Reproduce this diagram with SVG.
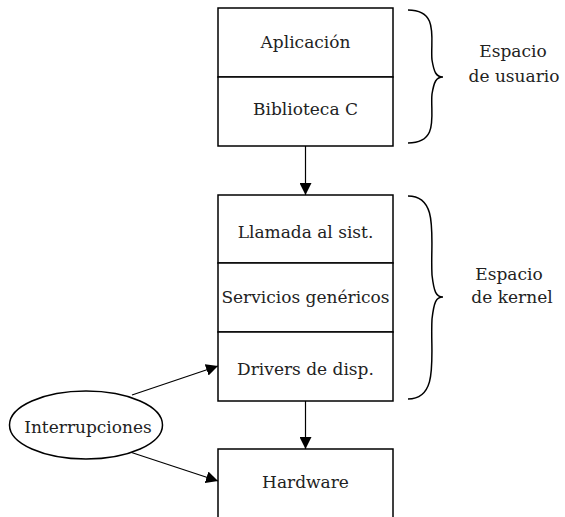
<svg xmlns="http://www.w3.org/2000/svg" width="565" height="517" viewBox="0 0 565 517">
<style>
.box{fill:#fff;stroke:#000;stroke-width:1.5}
.t{font-family:"DejaVu Serif","Liberation Serif",serif;font-size:17px;fill:#222;text-anchor:middle}
.c{fill:none;stroke:#000;stroke-width:1.2}
.br{fill:none;stroke:#000;stroke-width:1.5}
</style>
<defs>
<marker id="ah" viewBox="0 0 10 10" refX="10" refY="5" markerWidth="12" markerHeight="12" markerUnits="userSpaceOnUse" orient="auto">
<path d="M0,0 L10,5 L0,10 Z" fill="#000"/>
</marker>
</defs>
<g id="connectors">
<line class="c" x1="305.5" y1="146" x2="305.5" y2="195" marker-end="url(#ah)"/>
<line class="c" x1="305.5" y1="401" x2="305.5" y2="449" marker-end="url(#ah)"/>
<line class="c" x1="132" y1="395" x2="218" y2="366" marker-end="url(#ah)"/>
<line class="c" x1="130" y1="452" x2="218" y2="481" marker-end="url(#ah)"/>
</g>
<g id="aplicacion"><rect class="box" x="218" y="8" width="175" height="69"/><text class="t" x="305.5" y="48">Aplicación</text></g>
<g id="biblioteca"><rect class="box" x="218" y="77" width="175" height="69"/><text class="t" x="305.5" y="115">Biblioteca C</text></g>
<g id="llamada"><rect class="box" x="218" y="195" width="175" height="68"/><text class="t" x="305.5" y="238">Llamada al sist.</text></g>
<g id="servicios"><rect class="box" x="218" y="263" width="175" height="69"/><text class="t" x="305.5" y="303">Servicios genéricos</text></g>
<g id="drivers"><rect class="box" x="218" y="332" width="175" height="69"/><text class="t" x="305.5" y="375">Drivers de disp.</text></g>
<g id="hardware"><rect class="box" x="218" y="449" width="175" height="70"/><text class="t" x="305.5" y="488">Hardware</text></g>
<g id="interrupciones"><ellipse class="box" cx="86" cy="425" rx="76.5" ry="34"/><text class="t" x="88" y="433">Interrupciones</text></g>
<g id="brace-usuario">
<path class="br" d="M408,10 C440,10 430,40 432,60 C434,72 436,77 443,77 C436,77 434,82 432,94 C430,114 440,143 408,143"/>
<text class="t" x="513" y="57">Espacio</text><text class="t" x="514" y="82">de usuario</text>
</g>
<g id="brace-kernel">
<path class="br" d="M408,196 C440,196 430,240 432,275 C434,292 436,297 443,297 C436,297 434,302 432,319 C430,354 440,399 408,399"/>
<text class="t" x="509" y="280">Espacio</text><text class="t" x="512" y="303">de kernel</text>
</g>
</svg>
